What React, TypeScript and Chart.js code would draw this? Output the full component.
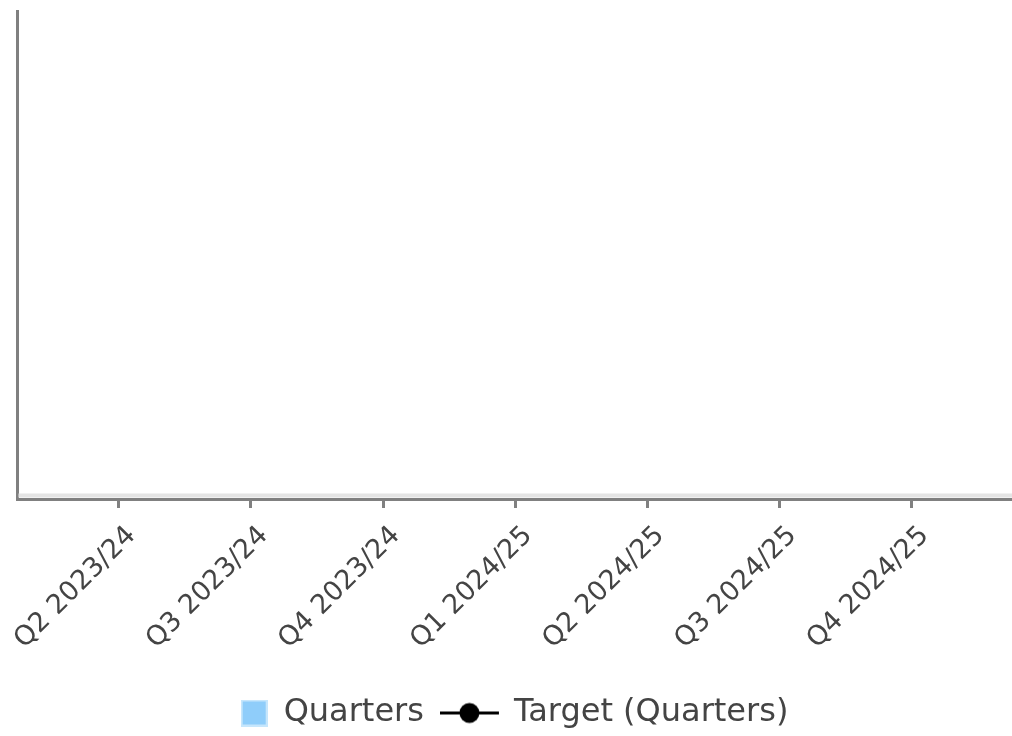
import React, { useEffect, useRef } from "react";
import { Chart, registerables } from "chart.js";

Chart.register(...registerables);

// ---- data (the reference chart shows no values: every entry is empty) ----
const categories: string[] = [
  "Q2 2023/24",
  "Q3 2023/24",
  "Q4 2023/24",
  "Q1 2024/25",
  "Q2 2024/25",
  "Q3 2024/25",
  "Q4 2024/25",
];
const quarterValues: (number | null)[] = [null, null, null, null, null, null, null];
const targetValues: (number | null)[] = [null, null, null, null, null, null, null];
const seriesNames: string[] = ["Quarters", "Target (Quarters)"];

const BAR_COLOR = "#8fcdfa";
const TEXT_COLOR = "#444444";
const AXIS_COLOR = "#808080";

function makeSquareIcon(): HTMLCanvasElement {
  const c = document.createElement("canvas");
  c.width = 27;
  c.height = 27;
  const g = c.getContext("2d")!;
  g.fillStyle = "#c6e6fc";
  g.fillRect(0, 0, 27, 27);
  g.fillStyle = BAR_COLOR;
  g.fillRect(2, 2, 23, 23);
  return c;
}

function makeLineIcon(): HTMLCanvasElement {
  // 89 wide so that, centred on a 27px legend box, the marker ends at the box's right edge
  const c = document.createElement("canvas");
  c.width = 89;
  c.height = 27;
  const g = c.getContext("2d")!;
  g.strokeStyle = "#000";
  g.lineWidth = 3;
  g.beginPath();
  g.moveTo(0, 13.5);
  g.lineTo(59, 13.5);
  g.stroke();
  g.fillStyle = "#000";
  g.beginPath();
  g.arc(29.5, 13.5, 10, 0, Math.PI * 2);
  g.fill();
  return c;
}

const baselinePlugin = {
  id: "baselineTint",
  beforeDatasetsDraw(chart: any) {
    const { ctx, chartArea } = chart;
    ctx.save();
    ctx.strokeStyle = "#e4e4e4";
    ctx.lineWidth = 4;
    ctx.beginPath();
    ctx.moveTo(chartArea.left + 1.5, chartArea.bottom - 3.5);
    ctx.lineTo(chartArea.right, chartArea.bottom - 3.5);
    ctx.stroke();
    ctx.restore();
  },
};

export default function App() {
  const ref = useRef<HTMLCanvasElement | null>(null);

  useEffect(() => {
    if (!ref.current) return;
    const squareIcon = makeSquareIcon();
    const lineIcon = makeLineIcon();
    const icons = [squareIcon, lineIcon];

    const chart = new Chart(ref.current, {
      type: "bar",
      data: {
        datasets: [
          {
            type: "bar",
            label: seriesNames[0],
            data: categories.map((_, i) => ({ x: i, y: quarterValues[i] })) as any,
            backgroundColor: BAR_COLOR,
          },
          {
            type: "line",
            label: seriesNames[1],
            data: categories.map((_, i) => ({ x: i, y: targetValues[i] })) as any,
            borderColor: "#000",
            backgroundColor: "#000",
            borderWidth: 3,
            pointRadius: 10,
          },
        ],
      },
      options: {
        responsive: false,
        animation: false,
        layout: { autoPadding: false, padding: { left: 17, top: 11, right: 0, bottom: -3 } },
        plugins: {
          tooltip: { enabled: false },
          legend: {
            position: "bottom",
            align: "center",
            labels: {
              usePointStyle: true,
              pointStyleWidth: 27,
              boxHeight: 27,
              padding: 47,
              color: TEXT_COLOR,
              font: { family: "'DejaVu Sans', sans-serif", size: 32 },
              generateLabels: (ch: any) =>
                ch.data.datasets.map((ds: any, i: number) => ({
                  text: ds.label,
                  pointStyle: icons[i],
                  fillStyle: "transparent",
                  strokeStyle: "transparent",
                  lineWidth: 0,
                  hidden: false,
                  datasetIndex: i,
                  fontColor: TEXT_COLOR,
                })),
            },
          },
        },
        scales: {
          x: {
            type: "linear",
            offset: false,
            min: -0.77,
            max: 6.76,
            afterBuildTicks: (axis: any) => {
              axis.ticks = categories.map((_, i) => ({ value: i }));
            },
            afterFit: (axis: any) => {
              axis.height = 151;
              axis.paddingLeft = 0;
              axis.paddingRight = 0;
            },
            ticks: {
              autoSkip: false,
              minRotation: 45,
              maxRotation: 45,
              padding: 12,
              labelOffset: 13,
              color: TEXT_COLOR,
              font: { family: "'DejaVu Sans', sans-serif", size: 27 },
              callback: (v: any) => categories[Math.round(Number(v))] ?? "",
            },
            grid: {
              display: true,
              offset: false,
              drawOnChartArea: false,
              drawTicks: true,
              tickLength: 9,
              lineWidth: 3,
              color: AXIS_COLOR,
            },
            border: { display: true, color: AXIS_COLOR, width: 3 },
          },
          y: {
            min: 0,
            max: 1,
            ticks: { display: false },
            grid: { display: false, drawTicks: false },
            border: { display: true, color: AXIS_COLOR, width: 3 },
          },
        },
      },
      plugins: [baselinePlugin],
    } as any);

    return () => chart.destroy();
  }, []);

  return (
    <div style={{ position: "fixed", left: 0, top: 0, width: 1012, height: 736, background: "#fff" }}>
      <canvas ref={ref} width={1012} height={736} style={{ display: "block" }} />
    </div>
  );
}
